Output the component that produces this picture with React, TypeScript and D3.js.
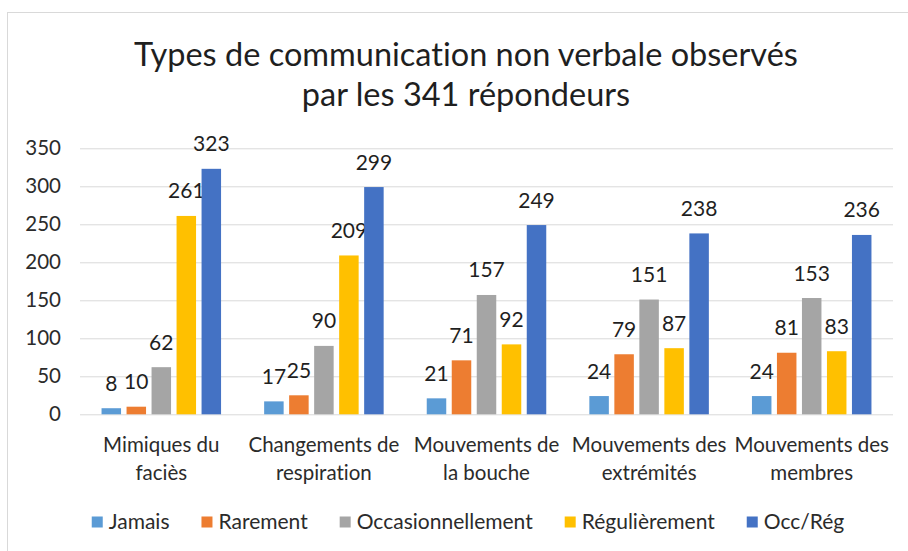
import { useEffect, useRef } from 'react'
import * as d3 from 'd3'

const categories = [
  ['Mimiques du', 'faciès'],
  ['Changements de', 'respiration'],
  ['Mouvements de', 'la bouche'],
  ['Mouvements des', 'extrémités'],
  ['Mouvements des', 'membres']
]
const seriesNames = ['Jamais', 'Rarement', 'Occasionnellement', 'Régulièrement', 'Occ/Rég']
const jamais = [8, 17, 21, 24, 24]
const rarement = [10, 25, 71, 79, 81]
const occasionnellement = [62, 90, 157, 151, 153]
const regulierement = [261, 209, 92, 87, 83]
const occReg = [323, 299, 249, 238, 236]
const yTicks = [0, 50, 100, 150, 200, 250, 300, 350]
const colors = ['#5B9BD5', '#ED7D31', '#A5A5A5', '#FFC000', '#4472C4']

const W = 908
const H = 551
const FONT = 'Lato, "Open Sans", sans-serif'

export default function App() {
  const svgRef = useRef<SVGSVGElement>(null)

  useEffect(() => {
    const svg = d3.select(svgRef.current)
    svg.selectAll('*').remove()
    svg.style('font-variant-ligatures', 'none')

    const series = [jamais, rarement, occasionnellement, regulierement, occReg]
    const catIdx = categories.map((_, i) => i)

    // chart frame
    svg.append('rect')
      .attr('x', 7.5).attr('y', 12.5)
      .attr('width', 940).attr('height', 580)
      .attr('fill', 'white')
      .attr('stroke', '#D9D9D9')

    // title
    const title = svg.append('text')
      .attr('text-anchor', 'middle')
      .attr('font-family', FONT)
      .attr('font-size', 32.5)
      .attr('fill', '#1f1f1f')
    title.append('tspan').attr('x', 466).attr('y', 66).text('Types de communication non verbale observés')
    title.append('tspan').attr('x', 466).attr('y', 106).text('par les 341 répondeurs')

    // scales
    const y = d3.scaleLinear([0, 350], [414.3, 148.3])
    const x0 = d3.scaleBand<number>()
      .domain(catIdx)
      .range([80, 893])
      .paddingInner(0.265)
      .paddingOuter(0.1325)
    const x1 = d3.scaleBand<number>()
      .domain(seriesNames.map((_, i) => i))
      .range([0, x0.bandwidth()])
      .paddingInner(0.22)

    // grid
    const grid = d3.axisLeft(y).tickValues(yTicks).tickSize(-(893 - 80)).tickFormat(() => '')
    const gridG = svg.append('g').attr('transform', 'translate(80,0)').call(grid)
    gridG.select('.domain').remove()
    gridG.selectAll('.tick line').attr('stroke', '#D9D9D9')

    // y tick labels
    const yAxis = d3.axisLeft(y).tickValues(yTicks).tickSize(0).tickPadding(0)
    const yG = svg.append('g').attr('transform', 'translate(61,0)').call(yAxis)
    yG.select('.domain').remove()
    yG.selectAll('.tick text')
      .attr('font-family', FONT)
      .attr('font-size', 20.5)
      .attr('fill', '#2b2b2b')

    // bars
    const groups = svg.append('g')
      .selectAll('g')
      .data(series)
      .join('g')
      .attr('fill', (_, s) => colors[s])

    groups.selectAll('rect')
      .data((d, s) => d.map((v, c) => ({ v, c, s })))
      .join('rect')
      .attr('x', d => x0(d.c)! + x1(d.s)!)
      .attr('y', d => y(d.v))
      .attr('width', x1.bandwidth())
      .attr('height', d => y(0) - y(d.v))

    // data labels
    groups.selectAll('text')
      .data((d, s) => d.map((v, c) => ({ v, c, s })))
      .join('text')
      .attr('x', d => x0(d.c)! + x1(d.s)! + x1.bandwidth() / 2)
      .attr('y', d => y(d.v) - 17.5)
      .attr('text-anchor', 'middle')
      .attr('font-family', FONT)
      .attr('font-size', 21)
      .attr('fill', '#1f1f1f')
      .text(d => d.v)

    // category labels
    const catG = svg.append('g')
      .selectAll('text')
      .data(categories)
      .join('text')
      .attr('text-anchor', 'middle')
      .attr('font-family', FONT)
      .attr('font-size', 20.5)
      .attr('fill', '#2b2b2b')
    catG.each(function (lines, i) {
      const t = d3.select(this)
      const cx = x0(i)! + x0.bandwidth() / 2
      lines.forEach((line, k) => {
        t.append('tspan').attr('x', cx).attr('y', 452 + k * 28).text(line)
      })
    })

    // legend
    const legend = svg.append('g')
    const items = legend.selectAll('g')
      .data(seriesNames)
      .join('g')
    items.append('rect')
      .attr('width', 11).attr('height', 11)
      .attr('y', 516.5)
      .attr('fill', (_, i) => colors[i])
    items.append('text')
      .attr('x', 17)
      .attr('y', 528.5)
      .attr('font-family', FONT)
      .attr('font-size', 21)
      .attr('fill', '#2b2b2b')
      .text(d => d)
    const gap = 32
    let pos = 0
    const offsets: number[] = []
    items.each(function () {
      offsets.push(pos)
      const tw = (d3.select(this).select('text').node() as SVGTextElement).getComputedTextLength()
      pos += 17 + tw + gap
    })
    const total = pos - gap
    const start = 468 - total / 2
    items.attr('transform', (_, i) => `translate(${start + offsets[i]},0)`)
  }, [])

  return (
    <svg
      ref={svgRef}
      width={W}
      height={H}
      style={{ position: 'absolute', left: 0, top: 0, background: 'white' }}
    />
  )
}
